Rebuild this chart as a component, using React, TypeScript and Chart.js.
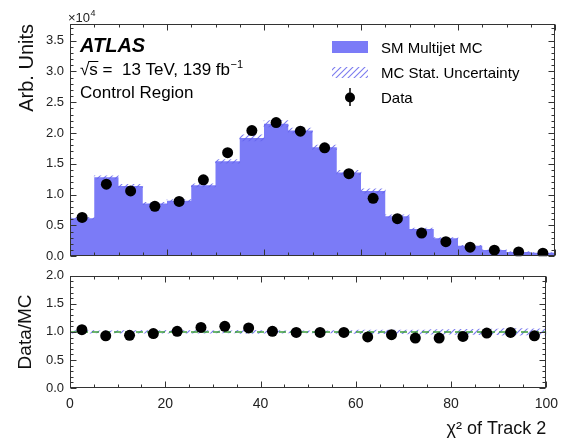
import React, { useEffect, useRef } from "react";
import { Chart, registerables } from "chart.js";

Chart.register(...registerables);

// ---- data (main panel values in units of 10^4) ----
const binLowEdges = [0, 5, 10, 15, 20, 25, 30, 35, 40, 45, 50, 55, 60, 65, 70, 75, 80, 85, 90, 95];
const binWidth = 5;
const xMin = 0;
const xMax = 100;
const mcValues = [0.616, 1.28, 1.14, 0.855, 0.9, 1.15, 1.54, 1.92, 2.15, 2.04, 1.77, 1.36, 1.06, 0.65, 0.44, 0.29, 0.17, 0.1, 0.07, 0.055];
const mcStatUnc = [0.015, 0.025, 0.025, 0.02, 0.02, 0.025, 0.03, 0.05, 0.05, 0.04, 0.035, 0.035, 0.035, 0.02, 0.015, 0.012, 0.008, 0.005, 0.004, 0.003];
const dataValues = [0.63, 1.17, 1.06, 0.81, 0.89, 1.24, 1.68, 2.04, 2.17, 2.03, 1.76, 1.34, 0.94, 0.61, 0.376, 0.235, 0.147, 0.098, 0.07, 0.048];
const ratioValues = [1.04, 0.93, 0.94, 0.97, 1.01, 1.08, 1.1, 1.07, 1.01, 0.99, 0.99, 0.99, 0.91, 0.95, 0.89, 0.89, 0.92, 0.98, 0.99, 0.93];
const topYMax = 3.77;
const ratioYMax = 2.0;

const FONT = '"Liberation Sans", Arial, Helvetica, sans-serif';
const MC_COLOR = "#7b7bf7";
const HATCH_COLOR = "rgba(100,100,235,0.85)";
const TEXT = "#222";
const FRAME = "#333";

function makeHatch(ctx: CanvasRenderingContext2D, color: string) {
  const c = document.createElement("canvas");
  c.width = 6;
  c.height = 6;
  const g = c.getContext("2d")!;
  g.strokeStyle = color;
  g.lineWidth = 1.1;
  g.beginPath();
  g.moveTo(0, 6);
  g.lineTo(6, 0);
  g.moveTo(-3, 3);
  g.lineTo(3, -3);
  g.moveTo(3, 9);
  g.lineTo(9, 3);
  g.stroke();
  return ctx.createPattern(c, "repeat")!;
}

function frameTicks(xMajor: number, xMinor: number, yMajor: number, yMinor: number) {
  return {
    id: "frameTicks",
    afterDraw(chart: any) {
      const { ctx, chartArea: a, scales } = chart;
      const xs = scales.x;
      const ys = scales.y;
      ctx.save();
      ctx.strokeStyle = FRAME;
      ctx.lineWidth = 1;
      const L = Math.round(a.left) + 0.5;
      const R = Math.round(a.right) - 0.5;
      const T = Math.round(a.top) + 0.5;
      const B = Math.round(a.bottom) - 0.5;
      ctx.strokeRect(L, T, R - L, B - T);
      ctx.beginPath();
      const eps = 1e-6;
      for (let v = xs.min; v <= xs.max + eps; v += xMinor) {
        const major = Math.abs(v / xMajor - Math.round(v / xMajor)) < 1e-6;
        const len = major ? 6 : 3;
        const px = Math.round(xs.getPixelForValue(v)) + 0.5;
        ctx.moveTo(px, B);
        ctx.lineTo(px, B - len);
        ctx.moveTo(px, T);
        ctx.lineTo(px, T + len);
      }
      for (let v = ys.min; v <= ys.max + eps; v += yMinor) {
        const major = Math.abs(v / yMajor - Math.round(v / yMajor)) < 1e-6;
        const len = major ? 6 : 3;
        const py = Math.round(ys.getPixelForValue(v)) + 0.5;
        ctx.moveTo(L, py);
        ctx.lineTo(L + len, py);
        ctx.moveTo(R, py);
        ctx.lineTo(R - len, py);
      }
      ctx.stroke();
      ctx.restore();
    },
  };
}

function annotations(hatch: CanvasPattern) {
  return {
    id: "annotations",
    afterDraw(chart: any) {
      const { ctx } = chart;
      ctx.save();
      ctx.fillStyle = TEXT;
      ctx.textBaseline = "alphabetic";
      ctx.textAlign = "left";
      // x10^4
      ctx.font = `13px ${FONT}`;
      ctx.fillText("×10", 68, 22);
      const w10 = ctx.measureText("×10").width;
      ctx.font = `9px ${FONT}`;
      ctx.fillText("4", 68 + w10 + 0.5, 16);

      // ATLAS label
      ctx.fillStyle = "#000";
      ctx.font = `italic bold 20px ${FONT}`;
      ctx.fillText("ATLAS", 80, 52);
      ctx.font = `17px ${FONT}`;
      let x = 80;
      const y2 = 75;
      ctx.fillText("√", x, y2);
      x += ctx.measureText("√").width;
      const sw = ctx.measureText("s").width;
      ctx.fillText("s", x, y2);
      ctx.beginPath();
      ctx.lineWidth = 1;
      ctx.strokeStyle = "#000";
      ctx.moveTo(x - 1, y2 - 13.5);
      ctx.lineTo(x + sw + 0.5, y2 - 13.5);
      ctx.stroke();
      x += sw;
      const rest = " =  13 TeV, 139 fb";
      ctx.fillText(rest, x, y2);
      x += ctx.measureText(rest).width;
      ctx.font = `11px ${FONT}`;
      ctx.fillText("−1", x + 0.5, y2 - 7);
      ctx.font = `17px ${FONT}`;
      ctx.fillText("Control Region", 80, 98);

      // legend
      ctx.fillStyle = MC_COLOR;
      ctx.fillRect(332, 41, 36, 12);
      ctx.fillStyle = hatch;
      ctx.fillRect(332, 67, 36, 11);
      ctx.strokeStyle = "#000";
      ctx.lineWidth = 1.5;
      ctx.beginPath();
      ctx.moveTo(350, 88);
      ctx.lineTo(350, 106);
      ctx.stroke();
      ctx.fillStyle = "#000";
      ctx.beginPath();
      ctx.arc(350, 97.5, 5, 0, Math.PI * 2);
      ctx.fill();
      ctx.font = `15px ${FONT}`;
      ctx.fillStyle = "#000";
      ctx.fillText("SM Multijet MC", 381, 53);
      ctx.fillText("MC Stat. Uncertainty", 381, 78);
      ctx.fillText("Data", 381, 103);
      ctx.restore();
    },
  };
}

function keepMultiples(step: number) {
  return (scale: any) => {
    scale.ticks = scale.ticks.filter(
      (t: any) => Math.abs(t.value / step - Math.round(t.value / step)) < 1e-6
    );
  };
}

export default function App() {
  const topRef = useRef<HTMLCanvasElement>(null);
  const botRef = useRef<HTMLCanvasElement>(null);

  useEffect(() => {
    const topCanvas = topRef.current!;
    const botCanvas = botRef.current!;
    const hatchTop = makeHatch(topCanvas.getContext("2d")!, HATCH_COLOR);
    const hatchBot = makeHatch(botCanvas.getContext("2d")!, HATCH_COLOR);

    const centers = binLowEdges.map((e) => e + binWidth / 2);
    const mcStep = binLowEdges
      .map((e, i) => ({ x: e, y: mcValues[i] }))
      .concat([{ x: xMax, y: mcValues[mcValues.length - 1] }]);
    const uncBars = centers.map((c, i) => ({ x: c, y: [mcValues[i] - mcStatUnc[i], mcValues[i] + mcStatUnc[i]] }));
    const dataPts = centers.map((c, i) => ({ x: c, y: dataValues[i] }));
    const ratioBand = centers.map((c, i) => ({
      x: c,
      y: [1 - mcStatUnc[i] / mcValues[i], 1 + mcStatUnc[i] / mcValues[i]],
    }));
    const ratioPts = centers.map((c, i) => ({ x: c, y: ratioValues[i] }));

    const tickFont = { family: FONT, size: 13 };

    const top = new Chart(topCanvas, {
      type: "bar",
      data: {
        datasets: [
          {
            type: "line",
            data: mcStep,
            stepped: "before",
            fill: "origin",
            backgroundColor: MC_COLOR,
            borderColor: "rgba(0,0,0,0)",
            borderWidth: 0,
            pointRadius: 0,
            order: 3,
          } as any,
          {
            type: "bar",
            data: uncBars,
            backgroundColor: hatchTop,
            borderWidth: 0,
            barPercentage: 1,
            categoryPercentage: 1,
            order: 2,
          } as any,
          {
            type: "scatter",
            data: dataPts,
            backgroundColor: "#000",
            borderWidth: 0,
            pointRadius: 5.5,
            order: 1,
          } as any,
        ],
      },
      options: {
        responsive: false,
        animation: false,
        events: [],
        layout: { padding: { top: 24, right: 11, bottom: 0, left: 0 } },
        plugins: { legend: { display: false }, tooltip: { enabled: false } },
        scales: {
          x: {
            type: "linear",
            min: xMin,
            max: xMax,
            offset: false,
            display: false,
          },
          y: {
            min: 0,
            max: topYMax,
            grid: { display: false, drawTicks: false },
            border: { display: false },
            afterBuildTicks: keepMultiples(0.5),
            afterFit: (s: any) => {
              s.width = 70;
            },
            ticks: {
              stepSize: 0.5,
              padding: 6,
              color: TEXT,
              font: tickFont,
              callback: (v: any) => Number(v).toFixed(1),
            },
            title: {
              display: true,
              text: "Arb. Units",
              align: "end",
              color: "#111",
              font: { family: FONT, size: 20, lineHeight: 1.2 },
              padding: { top: 15, bottom: 0 },
            },
          },
        },
      } as any,
      plugins: [frameTicks(20, 5, 0.5, 0.1), annotations(hatchTop)],
    });

    const bot = new Chart(botCanvas, {
      type: "bar",
      data: {
        datasets: [
          {
            type: "bar",
            data: ratioBand,
            backgroundColor: hatchBot,
            borderWidth: 0,
            barPercentage: 1,
            categoryPercentage: 1,
            order: 3,
          } as any,
          {
            type: "line",
            data: [
              { x: xMin, y: 1 },
              { x: xMax, y: 1 },
            ],
            borderColor: "#3d9f3d",
            borderWidth: 1.5,
            borderDash: [7, 4],
            pointRadius: 0,
            fill: false,
            order: 2,
          } as any,
          {
            type: "scatter",
            data: ratioPts,
            backgroundColor: "#000",
            borderWidth: 0,
            pointRadius: 5.5,
            order: 1,
          } as any,
        ],
      },
      options: {
        responsive: false,
        animation: false,
        events: [],
        layout: { padding: { top: 10, right: 11, bottom: 0, left: 0 } },
        plugins: { legend: { display: false }, tooltip: { enabled: false } },
        scales: {
          x: {
            type: "linear",
            min: xMin,
            max: xMax,
            offset: false,
            grid: { display: false, drawTicks: false },
            border: { display: false },
            afterFit: (s: any) => {
              s.height = 50;
            },
            ticks: {
              stepSize: 20,
              padding: 8,
              color: TEXT,
              font: { family: FONT, size: 14 },
              maxRotation: 0,
            },
            title: {
              display: true,
              text: "χ² of Track 2",
              align: "end",
              color: "#111",
              font: { family: FONT, size: 18, lineHeight: 1 },
              padding: { top: 0, bottom: 0 },
            },
          },
          y: {
            min: 0,
            max: ratioYMax,
            grid: { display: false, drawTicks: false },
            border: { display: false },
            afterBuildTicks: keepMultiples(0.5),
            afterFit: (s: any) => {
              s.width = 70;
            },
            ticks: {
              stepSize: 0.5,
              padding: 6,
              color: TEXT,
              font: tickFont,
              callback: (v: any) => Number(v).toFixed(1),
            },
            title: {
              display: true,
              text: "Data/MC",
              align: "center",
              color: "#111",
              font: { family: FONT, size: 19, lineHeight: 1.2 },
              padding: { top: 14, bottom: 0 },
            },
          },
        },
      } as any,
      plugins: [frameTicks(20, 5, 0.5, 0.1)],
    });

    return () => {
      top.destroy();
      bot.destroy();
    };
  }, []);

  return (
    <div style={{ position: "fixed", left: 0, top: 0, width: 566, height: 438, background: "#fff" }}>
      <canvas ref={topRef} width={566} height={270} style={{ position: "absolute", left: 0, top: 0 }} />
      <canvas ref={botRef} width={566} height={176} style={{ position: "absolute", left: 0, top: 262 }} />
    </div>
  );
}
